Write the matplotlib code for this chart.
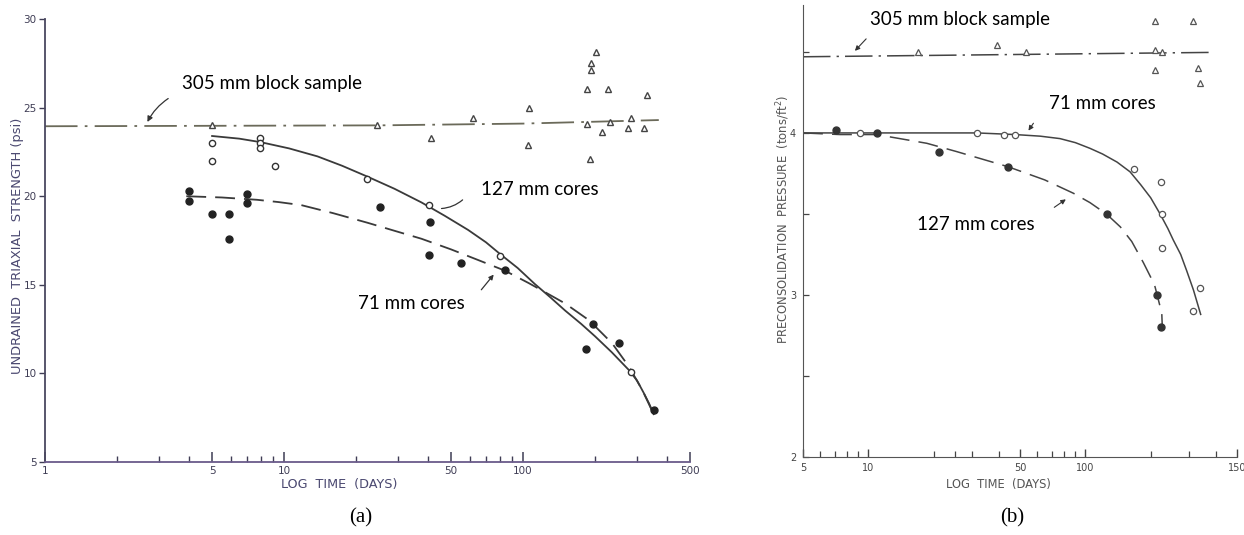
import matplotlib.pyplot as plt
from matplotlib.ticker import FixedLocator, NullFormatter, FixedFormatter

# ---- panel (a): undrained triaxial strength (psi) vs time (days)
a_block_t = [5, 24.6, 41.1, 61.6, 105, 106, 186, 186, 193, 193, 191, 203, 215, 227, 232, 276, 284, 322, 329]
a_block_s = [24.0, 24.0, 23.3, 24.4, 22.9, 25.0, 26.05, 24.1, 27.5, 27.1, 22.1, 28.15, 23.6, 26.05, 24.2, 23.85, 24.4, 23.85, 25.7]
a_127_t = [5, 5, 7.9, 7.9, 7.9, 9.2, 22.3, 40.3, 80, 284]
a_127_s = [23.0, 22.0, 23.3, 23.0, 22.7, 21.7, 21.0, 19.5, 16.6, 10.1]
a_71_t = [4.0, 4.0, 5, 5.9, 5.9, 7.0, 7.0, 25.1, 40.7, 40.3, 54.9, 84, 197, 184, 251, 352]
a_71_s = [20.3, 19.75, 19.0, 19.0, 17.6, 20.15, 19.6, 19.4, 18.55, 16.7, 16.25, 15.85, 12.8, 11.4, 11.7, 7.95]

a_block_line_t = [1, 25, 100, 370]
a_block_line_s = [23.95, 24.0, 24.1, 24.3]
a_127_line_t = [5, 6.5, 8, 10.5, 13.8, 17.5, 22.4, 29, 37.6, 47, 58.9, 70, 80, 95, 112, 130, 150, 175, 200, 235, 277, 300, 320, 337, 352]
a_127_line_s = [23.4, 23.25, 23.05, 22.7, 22.25, 21.72, 21.1, 20.42, 19.65, 18.9, 18.1, 17.4, 16.75, 15.95, 15.05, 14.3, 13.55, 12.8, 12.1, 11.2, 10.2, 9.6, 8.9, 8.3, 7.7]
a_71_line_t = [3.9, 5.5, 7.7, 9.5, 11.8, 16, 22.4, 29, 37.6, 50, 64.9, 84, 105.6, 125, 150, 189, 236, 277, 316, 355]
a_71_line_s = [20.0, 19.93, 19.8, 19.67, 19.5, 19.05, 18.5, 18.05, 17.6, 17.0, 16.4, 15.8, 15.1, 14.55, 13.95, 13.0, 11.7, 10.4, 9.05, 7.6]

# ---- panel (b): preconsolidation pressure (tons/ft2) vs time (days)
b_block_t = [17.0, 39.3, 53.2, 210, 314.5, 210, 225.5, 210, 330, 337]
b_block_p = [4.50, 4.54, 4.50, 4.69, 4.69, 4.51, 4.50, 4.39, 4.40, 4.31]
b_71_t = [9.16, 31.6, 42.2, 47.4, 168, 222.5, 226, 226, 337, 312.5]
b_71_p = [4.0, 4.0, 3.99, 3.99, 3.78, 3.70, 3.50, 3.29, 3.04, 2.90]
b_127_t = [7.1, 11.0, 21.2, 43.9, 125.5, 213, 222.5]
b_127_p = [4.02, 4.0, 3.88, 3.79, 3.50, 3.0, 2.80]

b_block_line_t = [5, 382]
b_block_line_p = [4.47, 4.497]
b_71_line_t = [5, 9.2, 31.6, 47.4, 62, 76.4, 90, 105, 120, 140, 160.7, 180, 200, 221, 240, 254, 275, 293, 315, 340]
b_71_line_p = [4.0, 4.0, 4.0, 3.99, 3.98, 3.965, 3.94, 3.905, 3.87, 3.82, 3.76, 3.68, 3.6, 3.50, 3.41, 3.34, 3.25, 3.15, 3.03, 2.88]
b_127_line_t = [5, 7.4, 10.9, 18.6, 25.5, 43.9, 65, 88, 105, 125.5, 145, 163.6, 185, 200, 209.5, 218, 225, 226]
b_127_line_p = [4.0, 3.99, 3.99, 3.936, 3.885, 3.792, 3.71, 3.628, 3.57, 3.498, 3.42, 3.33, 3.2, 3.11, 3.05, 2.96, 2.887, 2.82]

note_font = 'Lato'
note_size = 13.5

fig = plt.figure(figsize=(12.44, 5.35), dpi=100)

# ================= (a) =================
ca = '#3f3d55'
ax = fig.add_axes([0.0362, 0.1364, 0.5185, 0.828])
ax.set_xscale('log')
ax.set_xlim(1, 500)
ax.set_ylim(5, 30)
for s in ['top', 'right']:
    ax.spines[s].set_visible(False)
ax.spines['left'].set_color('#4a4860')
ax.spines['bottom'].set_color('#6a5a8a')
ax.spines['left'].set_linewidth(1.3)
ax.spines['bottom'].set_linewidth(1.3)

ax.plot(a_block_line_t, a_block_line_s, color='#6b6a5a', lw=1.3, dashes=(18, 4, 1.5, 4))
ax.plot(a_127_line_t, a_127_line_s, color='#3a3a3a', lw=1.3)
ax.plot(a_71_line_t, a_71_line_s, color='#3a3a3a', lw=1.3, dashes=(11, 5))
ax.plot(a_block_t, a_block_s, ls='none', marker='^', ms=5, mfc='white', mec='#444', mew=1.0)
ax.plot(a_127_t, a_127_s, ls='none', marker='o', ms=4.5, mfc='white', mec='#333', mew=1.0)
ax.plot(a_71_t, a_71_s, ls='none', marker='o', ms=5, mfc='#222', mec='#222')

ax.xaxis.set_major_locator(FixedLocator([1, 5, 10, 50, 100, 500]))
ax.xaxis.set_major_formatter(FixedFormatter(['1', '5', '10', '50', '100', '500']))
ax.xaxis.set_minor_locator(FixedLocator([2, 3, 4, 6, 7, 8, 9, 20, 30, 40, 60, 70, 80, 90, 200, 300, 400]))
ax.xaxis.set_minor_formatter(NullFormatter())
ax.yaxis.set_major_locator(FixedLocator([5, 10, 15, 20, 25, 30]))
ax.tick_params(axis='x', which='major', direction='in', length=7, width=1.1, colors=ca,
               labelsize=7.5, pad=3)
ax.tick_params(axis='x', which='minor', direction='in', length=4, width=1.0, colors=ca)
ax.tick_params(axis='y', direction='out', length=4, width=1.0, colors=ca, labelsize=7.5, pad=2)
ax.set_facecolor('none')

ax.text(8.93, 26.39, '305 mm block sample', family=note_font, size=note_size, ha='center', va='center')
ax.annotate('', xy=(2.65, 24.05), xytext=(3.35, 25.6),
            arrowprops=dict(arrowstyle='-|>', color='#333', lw=0.9, mutation_scale=8,
                            connectionstyle='arc3,rad=0.15'))
ax.text(117.5, 20.4, '127 mm cores', family=note_font, size=note_size, ha='center', va='center')
ax.annotate('', xy=(44.4, 19.3), xytext=(57, 19.9),
            arrowprops=dict(arrowstyle='-', color='#333', lw=0.9, connectionstyle='arc3,rad=-0.2'))
ax.text(34.0, 13.97, '71 mm cores', family=note_font, size=note_size, ha='center', va='center')
ax.annotate('', xy=(76.7, 15.7), xytext=(65.8, 14.6),
            arrowprops=dict(arrowstyle='-|>', color='#333', lw=0.9, mutation_scale=7))

fig.text(0.0137, 0.540, 'UNDRAINED  TRIAXIAL  STRENGTH (psi)', rotation=90, ha='center', va='center',
         size=9.4, color='#4a4870', family='DejaVu Sans')
fig.text(0.2725, 0.0953, 'LOG  TIME  (DAYS)', ha='center', va='center', size=9.2, color='#4a4870',
         family='DejaVu Sans')
fig.text(0.290, 0.032, '(a)', ha='center', va='center', size=15, family='Liberation Serif')

# ================= (b) =================
cb = '#444444'
bx = fig.add_axes([0.6455, 0.1458, 0.3489, 0.845])
bx.set_xscale('log')
bx.set_xlim(5, 500)
bx.set_ylim(2, 4.79)
for s in ['top', 'right']:
    bx.spines[s].set_visible(False)
bx.spines['left'].set_color('#555')
bx.spines['bottom'].set_color('#555')

bx.plot(b_block_line_t, b_block_line_p, color='#444', lw=1.1, dashes=(18, 4, 1.5, 4))
bx.plot(b_71_line_t, b_71_line_p, color='#444', lw=1.1)
bx.plot(b_127_line_t, b_127_line_p, color='#444', lw=1.1, dashes=(13, 6))
bx.plot(b_block_t, b_block_p, ls='none', marker='^', ms=4.5, mfc='white', mec='#555', mew=0.9)
bx.plot(b_71_t, b_71_p, ls='none', marker='o', ms=4.5, mfc='white', mec='#555', mew=0.9)
bx.plot(b_127_t, b_127_p, ls='none', marker='o', ms=5, mfc='#333', mec='#333')

bx.xaxis.set_major_locator(FixedLocator([5, 10, 50, 100, 500]))
bx.xaxis.set_major_formatter(FixedFormatter(['5', '10', '50', '100', '150']))
bx.xaxis.set_minor_locator(FixedLocator([6, 7, 8, 9, 20, 25, 30, 40, 60, 70, 80, 90, 200, 300, 400]))
bx.xaxis.set_minor_formatter(NullFormatter())
bx.yaxis.set_major_locator(FixedLocator([2, 3, 4]))
bx.yaxis.set_minor_locator(FixedLocator([2.5, 3.5, 4.5]))
bx.tick_params(axis='x', which='major', direction='in', length=6, width=1.0, colors=cb,
               labelsize=7, pad=4)
bx.tick_params(axis='x', which='minor', direction='in', length=4, width=0.9, colors=cb)
bx.tick_params(axis='y', which='both', direction='in', length=4, width=0.9, colors=cb,
               labelsize=7, pad=5)
bx.set_facecolor('none')

bx.text(26.5, 4.70, '305 mm block sample', family=note_font, size=note_size, ha='center', va='center')
bx.annotate('', xy=(8.5, 4.494), xytext=(9.97, 4.593),
            arrowprops=dict(arrowstyle='-|>', color='#333', lw=0.8, mutation_scale=7))
bx.text(119.4, 4.179, '71 mm cores', family=note_font, size=note_size, ha='center', va='center')
bx.annotate('', xy=(53.8, 4.0), xytext=(58.6, 4.074),
            arrowprops=dict(arrowstyle='-|>', color='#333', lw=0.8, mutation_scale=7))
bx.text(31.4, 3.432, '127 mm cores', family=note_font, size=note_size, ha='center', va='center')
bx.annotate('', xy=(83.3, 3.6), xytext=(70.2, 3.531),
            arrowprops=dict(arrowstyle='-|>', color='#333', lw=0.8, mutation_scale=7))

fig.text(0.6294, 0.589, 'PRECONSOLIDATION  PRESSURE  (tons/ft$^2$)', rotation=90, ha='center',
         va='center', size=8.4, color='#555', family='DejaVu Sans')
fig.text(0.8023, 0.0953, 'LOG  TIME  (DAYS)', ha='center', va='center', size=8.3, color='#555',
         family='DejaVu Sans')
fig.text(0.814, 0.032, '(b)', ha='center', va='center', size=15, family='Liberation Serif')

fig.savefig('out.png', dpi=100)
